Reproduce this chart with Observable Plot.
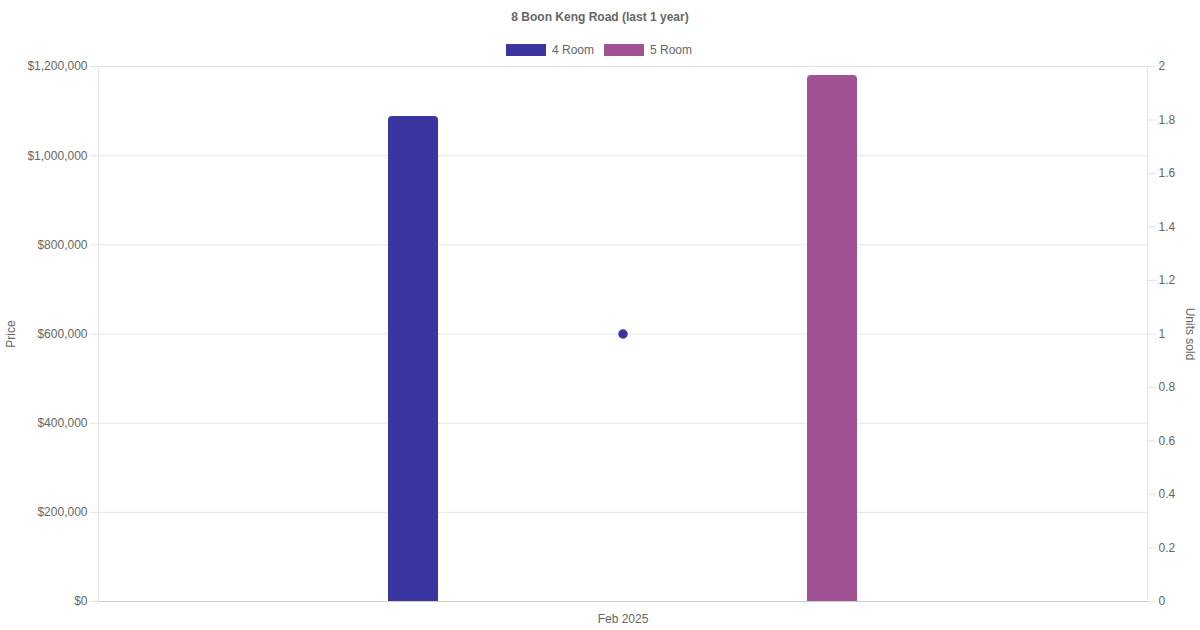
<!DOCTYPE html>
<html>
<head>
<meta charset="utf-8">
<script src="https://cdn.jsdelivr.net/npm/d3@7"></script>
<script src="https://cdn.jsdelivr.net/npm/@observablehq/plot@0.6"></script>
<style>
  html, body { margin: 0; padding: 0; background: #fff; }
  #wrap { width: 1200px; height: 630px; font-family: "Liberation Sans", Arial, Helvetica, sans-serif; color: #666; }
  #head { height: 60px; position: relative; }
  #title { position: absolute; top: 9px; left: 0; width: 1200px; text-align: center; font-size: 12px; font-weight: bold; color: #666; line-height: 16px; }
  #legend { position: absolute; top: 43px; left: -1px; width: 1200px; display: flex; justify-content: center; align-items: center; font-size: 12px; line-height: 14px; color: #666; }
  .item { display: flex; align-items: center; margin: 0 5px; }
  .sw { width: 40px; height: 12px; margin-right: 6px; }
</style>
</head>
<body>
<div id="wrap">
  <div id="head">
    <div id="title">8 Boon Keng Road (last 1 year)</div>
    <div id="legend"></div>
  </div>
  <div id="chart"></div>
</div>
<script>
const title = "8 Boon Keng Road (last 1 year)";
const months = ["Feb 2025"];
const types = ["4 Room", "5 Room"];
const colors = ["#3a35a1", "#a15295"];
const prices = [1088000, 1180000];
const unitsSold = [1];
const priceTicks = [0, 200000, 400000, 600000, 800000, 1000000, 1200000];
const unitTicks = [0, 0.2, 0.4, 0.6, 0.8, 1, 1.2, 1.4, 1.6, 1.8, 2];
const priceMax = 1200000;
const unitsMax = 2;
const ratio = priceMax / unitsMax;

// legend
const legend = document.getElementById("legend");
types.forEach((t, i) => {
  const it = document.createElement("div");
  it.className = "item";
  it.innerHTML = `<span class="sw" style="background:${colors[i]}"></span><span>${t}</span>`;
  legend.appendChild(it);
});

const bars = types.map((t, i) => ({month: months[0], type: t, price: prices[i]}));
const units = months.map((m, i) => ({month: m, units: unitsSold[i]}));
const fmt = d3.format(",");

const chart = Plot.plot({
  width: 1200,
  height: 570,
  marginTop: 6,
  marginBottom: 29,
  marginLeft: 98,
  marginRight: 53,
  style: {fontFamily: '"Liberation Sans", Arial, Helvetica, sans-serif', fontSize: "12px", color: "#666", background: "#fff"},
  fx: {domain: months, padding: 0},
  x: {domain: types, paddingInner: 0.8808, paddingOuter: 0.6904, axis: null},
  y: {domain: [0, priceMax], axis: null},
  color: {domain: types, range: colors},
  marks: [
    Plot.gridY(priceTicks, {stroke: "#e5e5e5", strokeOpacity: 1}),
    Plot.frame({stroke: "#e5e5e5", strokeOpacity: 1}),
    Plot.barY(bars, {x: "type", y: "price", fx: "month", fill: "type", ry1: 4, rx: 4}),
    Plot.barY(bars, {x: "type", y1: 0, y2: d => d.price / 2, fx: "month", fill: "type"}),
    Plot.ruleY([0], {stroke: "#cccccc"}),
    Plot.dot(units, {fx: "month", y: d => d.units * ratio, r: 4, fill: colors[0], stroke: colors[0]}),
    Plot.axisY(priceTicks, {anchor: "left", tickSize: 8, tickPadding: 3, stroke: "#e5e5e5", fill: "#666", tickFormat: d => "$" + fmt(d), label: null}),
    Plot.axisY(unitTicks.map(u => u * ratio), {anchor: "right", tickSize: 8, tickPadding: 3, stroke: "#e5e5e5", fill: "#666", tickFormat: d => String(+(d / ratio).toFixed(1)), label: null}),
    Plot.axisFx({anchor: "bottom", tickSize: 0, tickPadding: 13, fill: "#666", label: null}),
    Plot.text(["Price"], {frameAnchor: "left", dx: -87, rotate: -90, textAnchor: "middle", fill: "#666", fontSize: 12}),
    Plot.text(["Units sold"], {frameAnchor: "right", dx: 42, rotate: 90, textAnchor: "middle", fill: "#666", fontSize: 12})
  ]
});
document.getElementById("chart").appendChild(chart);
</script>
</body>
</html>
